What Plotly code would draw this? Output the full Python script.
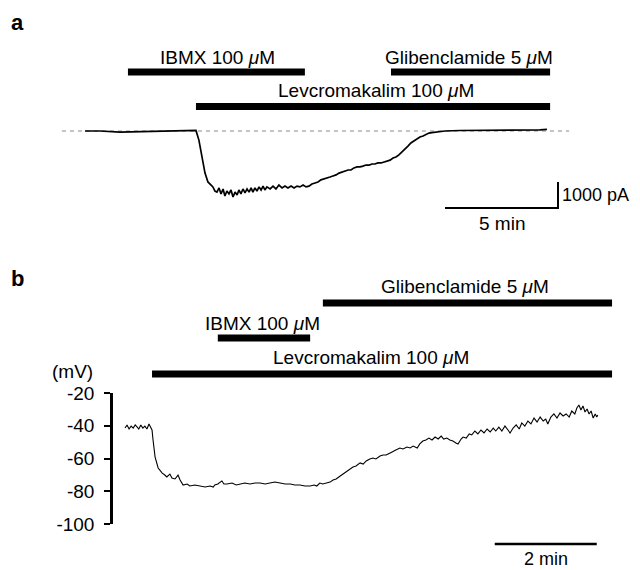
import plotly.graph_objects as go

# ---------------- panel a : membrane current (pA) against time (min)
time_a = [0, 0.66, 1.55, 2.43, 3.32, 4.20, 4.91, 5.04, 5.18, 5.31, 5.44, 5.58, 5.66,
          5.75, 5.84, 5.93, 6.02, 6.11, 6.19, 6.28, 6.37, 6.46, 6.55, 6.64, 6.73,
          6.81, 6.90, 6.99, 7.08, 7.17, 7.26, 7.35, 7.43, 7.52, 7.61, 7.70, 7.79,
          7.88, 7.96, 8.05, 8.19, 8.32, 8.45, 8.58, 8.72, 8.85, 8.98, 9.12, 9.25,
          9.38, 9.51, 9.65, 9.78, 9.91, 10.04, 10.18, 10.31, 10.44, 10.58, 10.71,
          10.84, 10.97, 11.11, 11.24, 11.37, 11.50, 11.64, 11.77, 11.90, 12.04,
          12.17, 12.30, 12.43, 12.57, 12.70, 12.83, 12.96, 13.10, 13.23, 13.36,
          13.50, 13.63, 13.76, 13.89, 14.03, 14.16, 14.29, 14.42, 14.56, 14.69,
          14.82, 14.96, 15.09, 15.22, 15.35, 15.53, 15.71, 15.93, 16.59, 17.48,
          18.36, 19.25, 20.13, 20.44]
current_a = [0, 0, -40, -20, 0, 20, 20, -350, -1040, -1620, -1960, -2080, -2150,
             -2310, -2350, -2190, -2420, -2230, -2500, -2310, -2420, -2270, -2540,
             -2350, -2460, -2270, -2420, -2230, -2380, -2230, -2350, -2190, -2350,
             -2190, -2310, -2150, -2270, -2120, -2270, -2150, -2230, -2120, -2230,
             -2080, -2190, -2120, -2190, -2120, -2190, -2120, -2150, -2080, -2150,
             -2120, -2040, -2000, -1960, -1880, -1850, -1810, -1770, -1730, -1690,
             -1620, -1580, -1540, -1500, -1500, -1420, -1380, -1380, -1350, -1310,
             -1310, -1270, -1270, -1230, -1230, -1190, -1150, -1120, -1040, -1000,
             -920, -810, -690, -580, -460, -380, -310, -230, -190, -120, -80, -60,
             -40, -20, 0, 20, 20, 40, 40, 40, 60]
baseline_a = [-1.02, 21.42]

drugs_a = ["IBMX 100 <i>μ</i>M", "Glibenclamide 5 <i>μ</i>M", "Levcromakalim 100 <i>μ</i>M"]
drug_a_on = [1.90, 13.54, 4.91]
drug_a_off = [9.73, 20.58, 20.58]

scale_a_min = 5
scale_a_pA = 1000

# ---------------- panel b : membrane potential (mV) against time (min)
time_b = [0, 0.04, 0.08, 0.12, 0.16, 0.20, 0.24, 0.27, 0.31, 0.35, 0.39, 0.43, 0.47,
          0.51, 0.53, 0.55, 0.59, 0.65, 0.73, 0.78, 0.82, 0.88, 0.92, 0.98, 1.02,
          1.04, 1.08, 1.14, 1.22, 1.27, 1.37, 1.47, 1.57, 1.67, 1.73, 1.76, 1.82,
          1.90, 1.94, 2.00, 2.10, 2.18, 2.25, 2.35, 2.45, 2.55, 2.65, 2.75, 2.84,
          2.94, 3.04, 3.14, 3.24, 3.33, 3.43, 3.53, 3.63, 3.71, 3.76, 3.82, 3.88,
          3.94, 4.02, 4.08, 4.14, 4.22, 4.27, 4.33, 4.41, 4.47, 4.53, 4.61, 4.67,
          4.73, 4.80, 4.86, 4.92, 5.00, 5.06, 5.12, 5.20, 5.25, 5.31, 5.39, 5.45,
          5.53, 5.59, 5.65, 5.73, 5.78, 5.84, 5.90, 5.96, 6.02, 6.08, 6.14, 6.20,
          6.25, 6.31, 6.37, 6.43, 6.49, 6.53, 6.59, 6.63, 6.69, 6.75, 6.80, 6.86,
          6.92, 6.98, 7.04, 7.10, 7.16, 7.22, 7.27, 7.33, 7.39, 7.45, 7.51, 7.55,
          7.61, 7.67, 7.73, 7.78, 7.84, 7.90, 7.96, 8.02, 8.08, 8.14, 8.20, 8.25,
          8.29, 8.35, 8.41, 8.47, 8.53, 8.59, 8.65, 8.71, 8.76, 8.82, 8.86, 8.90,
          8.94, 8.98, 9.02, 9.06, 9.10, 9.14, 9.18, 9.22, 9.25, 9.27]
vm_b = [-41.4, -39.5, -42.0, -40.2, -41.4, -39.5, -40.8, -42.0, -39.5, -41.4, -40.2,
        -42.0, -38.9, -41.4, -42.6, -48.7, -59.1, -65.8, -68.9, -70.1, -71.3, -69.5,
        -71.9, -72.5, -71.3, -70.1, -73.1, -76.2, -75.6, -76.8, -76.2, -76.8, -77.4,
        -76.8, -77.4, -76.2, -75.6, -73.7, -75.6, -75.6, -75.0, -76.2, -75.6, -75.0,
        -75.6, -75.0, -75.0, -75.6, -75.0, -74.4, -75.0, -75.6, -75.6, -76.2, -76.2,
        -76.8, -76.8, -76.2, -76.8, -75.0, -75.6, -75.0, -74.4, -73.1, -72.5, -70.7,
        -69.5, -68.2, -66.4, -65.2, -64.6, -62.7, -63.4, -61.5, -60.3, -59.7, -60.3,
        -58.5, -57.9, -57.9, -56.6, -56.0, -54.8, -53.6, -54.2, -53.0, -53.6, -52.4,
        -53.6, -51.1, -49.3, -48.7, -47.5, -48.7, -46.9, -48.1, -46.3, -48.1, -47.5,
        -48.7, -49.3, -50.5, -51.1, -48.1, -46.9, -47.5, -45.0, -45.6, -43.2, -45.0,
        -42.6, -44.4, -42.0, -43.8, -41.4, -43.2, -40.8, -43.2, -40.2, -42.6, -44.4,
        -41.4, -39.5, -42.0, -38.3, -40.2, -37.1, -38.9, -35.3, -37.7, -34.7, -37.1,
        -35.9, -38.9, -34.7, -32.8, -35.3, -32.2, -34.0, -32.8, -34.7, -31.0, -32.8,
        -29.2, -27.3, -30.4, -27.9, -31.6, -29.8, -32.8, -31.0, -35.3, -32.8, -34.7,
        -33.4]

drugs_b = ["Glibenclamide 5 <i>μ</i>M", "IBMX 100 <i>μ</i>M", "Levcromakalim 100 <i>μ</i>M"]
drug_b_on = [3.88, 1.82, 0.53]
drug_b_off = [9.55, 3.63, 9.55]

vm_ticks = [-20, -40, -60, -80, -100]
scale_b_min = 2

# ---------------- placement (layout only)
# the page body adds an 8 px margin, so the figure is 8 px smaller each way
W, H = 632, 562
FONT = "Liberation Sans, Arial, sans-serif"
bar_a_y = [2269, 2269, 942]
label_a_y = [2846, 2846, 1577]
label_a_shift = [0.06, -0.05, 0.15]
bar_b_y = [35.0, 13.6, -8.4]
label_b_y = [45.3, 22.7, 1.4]
label_b_shift = [-0.05, -0.02, -0.22]

fig = go.Figure()

# dashed zero-current line and current trace
fig.add_trace(go.Scatter(x=baseline_a, y=[0, 0], mode="lines",
                         line=dict(color="#8a8a8a", width=1, dash="4px,4px"),
                         xaxis="x", yaxis="y"))
fig.add_trace(go.Scatter(x=time_a, y=current_a, mode="lines",
                         line=dict(color="black", width=1.7),
                         xaxis="x", yaxis="y"))

ann = []
for name, t0, t1, yb, yl, dx in zip(drugs_a, drug_a_on, drug_a_off,
                                    bar_a_y, label_a_y, label_a_shift):
    fig.add_trace(go.Scatter(x=[t0, t1], y=[yb, yb], mode="lines",
                             line=dict(color="black", width=7),
                             xaxis="x", yaxis="y"))
    ann.append(dict(x=(t0 + t1) / 2 + dx, y=yl, xref="x", yref="y", text=name,
                    showarrow=False, font=dict(size=19)))

# scale bars, panel a
sa_x = drug_a_off[1] + 0.35
sa_bottom = -2962
fig.add_trace(go.Scatter(x=[sa_x - scale_a_min, sa_x, sa_x],
                         y=[sa_bottom, sa_bottom, sa_bottom + scale_a_pA],
                         mode="lines", line=dict(color="black", width=2),
                         xaxis="x", yaxis="y"))
ann.append(dict(x=sa_x + 0.08, y=sa_bottom + scale_a_pA / 2, xref="x", yref="y",
                text=f"{scale_a_pA} pA", xanchor="left", showarrow=False,
                font=dict(size=18)))
ann.append(dict(x=sa_x - scale_a_min / 2, y=sa_bottom - 590, xref="x", yref="y",
                text=f"{scale_a_min} min", showarrow=False, font=dict(size=19)))

# panel b membrane potential trace
fig.add_trace(go.Scatter(x=time_b, y=vm_b, mode="lines",
                         line=dict(color="black", width=1.1),
                         xaxis="x2", yaxis="y2"))

for name, t0, t1, yb, yl, dx in zip(drugs_b, drug_b_on, drug_b_off,
                                    bar_b_y, label_b_y, label_b_shift):
    fig.add_trace(go.Scatter(x=[t0, t1], y=[yb, yb], mode="lines",
                             line=dict(color="black", width=7),
                             xaxis="x3", yaxis="y3"))
    ann.append(dict(x=(t0 + t1) / 2 + dx, y=yl, xref="x3", yref="y3", text=name,
                    showarrow=False, font=dict(size=19)))

sb_x = time_b[-1] - 0.02
sb_y = -112.2
fig.add_trace(go.Scatter(x=[sb_x - scale_b_min, sb_x], y=[sb_y, sb_y], mode="lines",
                         line=dict(color="black", width=2.5),
                         xaxis="x3", yaxis="y3"))
ann.append(dict(x=sb_x - scale_b_min / 2, y=sb_y - 9, xref="x3", yref="y3",
                text=f"{scale_b_min} min", showarrow=False, font=dict(size=18)))

# unit label and panel letters (paper positions)
ann.append(dict(x=64 / W, y=1 - 363 / H, xref="paper", yref="paper", text="(mV)",
                xanchor="center", yanchor="middle", showarrow=False, font=dict(size=19)))
ann.append(dict(x=9 / W, y=1 - 14 / H, xref="paper", yref="paper", text="<b>a</b>",
                xanchor="center", yanchor="middle", showarrow=False, font=dict(size=22)))
ann.append(dict(x=9 / W, y=1 - 270 / H, xref="paper", yref="paper", text="<b>b</b>",
                xanchor="center", yanchor="middle", showarrow=False, font=dict(size=22)))

hidden = dict(visible=False, fixedrange=True)
fig.update_layout(
    width=W, height=H,
    margin=dict(l=0, r=0, t=0, b=0),
    paper_bgcolor="white", plot_bgcolor="rgba(0,0,0,0)",
    showlegend=False,
    font=dict(family=FONT, color="black", size=19),
    annotations=ann,
    xaxis=dict(hidden, domain=[0, 1], range=[-3.407, 24.558]),
    yaxis=dict(hidden, domain=[1 - 252 / H, 1], range=[-4962, 4731]),
    xaxis2=dict(hidden, domain=[105 / W, 1], range=[-0.2353, 10.098], anchor="y2"),
    yaxis2=dict(domain=[1 - 516 / H, 1 - 385 / H], range=[-100, -20],
                anchor="x2", showline=True, linecolor="black", linewidth=2.5,
                ticks="outside", ticklen=6, tickwidth=2, tickcolor="black",
                tickvals=vm_ticks, ticktext=[str(v) for v in vm_ticks],
                showgrid=False, zeroline=False, ticklabelstandoff=6,
                automargin=False, tickfont=dict(size=19)),
    xaxis3=dict(hidden, domain=[105 / W, 1], range=[-0.2353, 10.098], anchor="y3"),
    yaxis3=dict(hidden, domain=[0, 1 - 252 / H], range=[-128.1, 61.2], anchor="x3"),
)

fig.write_html("out.html")
